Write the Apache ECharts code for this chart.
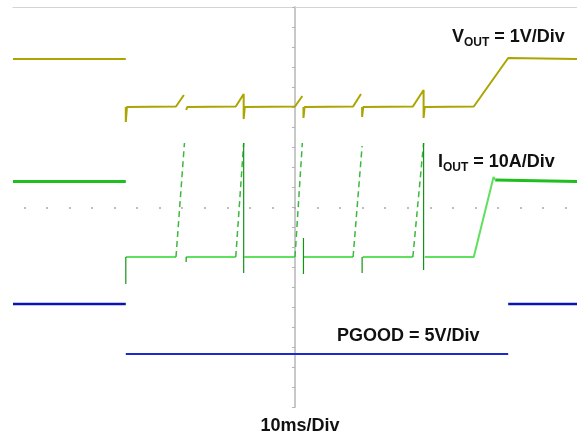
<!DOCTYPE html>
<html><head><meta charset="utf-8">
<script src="https://cdn.jsdelivr.net/npm/echarts@6/dist/echarts.min.js"></script>
<style>html,body{margin:0;padding:0;background:#fff}#c{width:577px;height:435px}</style>
</head><body><div id="c"></div>
<script>
// time in ms (10 ms/div); null value = gap in the trace
const voutTrace = [[-50,0.96],[-30,0.96],[-30,null],[-30,0],[-30,-0.3],[-29.8,0],[-21.1,0.01],[-19.7,0.24],[-19.5,null],
  [-19.3,-0.06],[-19.1,0],[-10.5,0.01],[-9.1,0.26],[-9.1,-0.24],[-8.9,0],[0,0.01],[1.3,0.22],[1.4,null],
  [1.5,0],[1.5,-0.22],[1.7,0],[10.3,0.01],[11.7,0.26],[11.8,null],[11.9,0],[11.9,-0.2],[12.1,0],
  [20.9,0.01],[22.8,0.34],[22.8,-0.22],[23,0],[31.7,0.01],[37.8,0.98],[50,0.96]];

const ioutHigh = [[-50,15.1],[-30,15.1],[-30,null],[35.5,15.4],[50,15.1]];
const ioutLow = [[-30,0],[-21.1,0],[-21,null],[-19.3,0],[-10.5,0],[-10,null],[-9.0,0],[0,0],[0.5,null],
  [1.6,0],[10.3,0],[11,null],[12.0,0],[20.9,0],[21.5,null],[23,0],[31.7,0],[35.2,16],[35.5,15.4]];
const ioutRamps = [[-21.1,0],[-19.6,22.8],[-19.5,null],[-10.5,0],[-9.1,22.8],[-9,null],[0,0],[1.3,22.8],[1.4,null],
  [10.3,0],[11.9,22.2],[12,null],[20.9,0],[22.8,22.8]];
const ioutSpikes = [[-30,0],[-30,-5.4],[-29,null],[-19.3,0],[-19.3,-1],[-19,null],[-9.1,22.8],[-9.1,-3.2],[-9,null],
  [1.5,3.8],[1.5,-3.4],[2,null],[11.9,0],[11.9,-3.2],[12,null],[22.8,22.8],[22.8,-2.6]];

const pgoodHigh = [[-50,5.3],[-30,5.3],[-29,null],[37.8,5.3],[50,5.3]];
const pgoodLow = [[-30,0.3],[37.8,0.3]];

const timeTicks = [-48,-44,-40,-36,-32,-28,-24,-20,-16,-12,-8,-4,0,4,8,12,16,20,24,28,32,36,40,44,48];

const labelVout = ['V','OUT',' = 1V/Div'];
const labelIout = ['I','OUT',' = 10A/Div'];
const labelPgood = 'PGOOD = 5V/Div';
const labelTime = '10ms/Div';

const FONT = 'Liberation Sans, Arial, sans-serif';
const rich = {
  a:{fontSize:18,fontWeight:'bold',fontFamily:FONT,lineHeight:18,verticalAlign:'top',fill:'#111'},
  b:{fontSize:12,fontWeight:'bold',fontFamily:FONT,lineHeight:12,padding:[9,0,0,0],verticalAlign:'top',fill:'#111'}
};
function sub(parts){return '{a|'+parts[0]+'}{b|'+parts[1]+'}{a|'+parts[2]+'}';}

const chart = echarts.init(document.getElementById('c'), null, {renderer:'canvas'});
const line = (data, yi, color, width, extra) => Object.assign({
  type:'line', data, xAxisIndex:0, yAxisIndex:yi, showSymbol:false, symbol:'none',
  connectNulls:false, animation:false, silent:true,
  lineStyle:{color, width}
}, extra||{});

chart.setOption({
  animation:false,
  backgroundColor:'#fff',
  grid:{left:13, top:7, width:567, height:400, containLabel:false},
  xAxis:[
    {type:'value', min:-50, max:50,
     axisLine:{show:true, onZero:true, onZeroAxisIndex:0, lineStyle:{opacity:0}},
     axisTick:{show:true, customValues:timeTicks, length:2, lineStyle:{color:'#a8a8a8', width:1.5}},
     axisLabel:{show:false}, splitLine:{show:false}},
    {type:'value', min:-50, max:50, position:'top',
     axisLine:{show:true, onZero:false, lineStyle:{color:'#d4d4d4', width:1}},
     axisTick:{show:false}, axisLabel:{show:false}, splitLine:{show:false}}
  ],
  yAxis:[
    {type:'value', min:-4, max:4, interval:0.4,
     axisLine:{show:true, onZero:true, onZeroAxisIndex:0, lineStyle:{color:'#c8c8c8', width:2}},
     axisTick:{show:true, length:3, lineStyle:{color:'#b4b4b4', width:1}},
     axisLabel:{show:false}, splitLine:{show:false}},
    {type:'value', min:-6, max:2, show:false},
    {type:'value', min:-30, max:50, show:false},
    {type:'value', min:-5, max:35, show:false}
  ],
  series:[
    line(voutTrace, 1, '#aaa500', 2),
    line(ioutHigh, 2, '#1fbf1f', 3),
    line(ioutLow, 2, '#5fe05f', 2),
    line(ioutRamps, 2, '#3cb83c', 1.5, {lineStyle:{color:'#3cb83c', width:1.5, type:[6,4]}}),
    line(ioutSpikes, 2, '#149414', 1.2),
    line(pgoodHigh, 3, '#0a14b4', 2.5),
    line(pgoodLow, 3, '#1a2ad0', 2)
  ],
  graphic:[
    {type:'text', x:452, y:28, style:{text:sub(labelVout), rich, align:'left', verticalAlign:'top'}},
    {type:'text', x:438, y:153, style:{text:sub(labelIout), rich, align:'left', verticalAlign:'top'}},
    {type:'text', x:337, y:327, style:{text:labelPgood, font:'bold 18px '+FONT, fill:'#111', align:'left', verticalAlign:'top'}},
    {type:'text', x:300, y:417, style:{text:labelTime, font:'bold 18px '+FONT, fill:'#111', align:'center', verticalAlign:'top'}}
  ]
});
</script></body></html>
